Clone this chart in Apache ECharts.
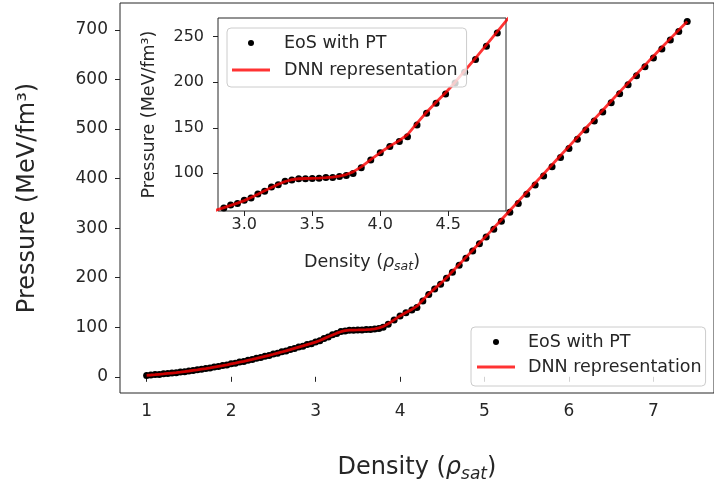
<!DOCTYPE html>
<html>
<head>
<meta charset="utf-8">
<script src="https://cdn.jsdelivr.net/npm/echarts@6/dist/echarts.min.js"></script>
<style>
html,body{margin:0;padding:0;background:#fff;}
#chart{width:714px;height:488px;}
</style>
</head>
<body>
<div id="chart"></div>
<script>
// Density (rho_sat)
const density = [1.00,1.05,1.10,1.15,1.20,1.25,1.30,1.35,1.40,1.45,1.50,1.55,1.60,1.65,1.70,1.75,1.80,1.85,1.90,1.95,
  2.00,2.05,2.10,2.15,2.20,2.25,2.30,2.35,2.40,2.45,2.50,2.55,2.60,2.65,2.70,2.75,2.80,2.85,2.90,2.95,
  3.00,3.05,3.10,3.15,3.20,3.25,3.30,3.35,3.40,3.45,3.50,3.55,3.60,3.65,3.70,3.75,3.80,3.86,3.93,
  4.00,4.07,4.14,4.20,4.27,4.34,4.41,4.48,4.55,4.62,4.70,4.78,4.86,4.94,
  5.02,5.11,5.20,5.30,5.40,5.50,5.60,5.70,5.80,5.90,6.00,6.10,6.20,6.30,6.40,6.50,6.60,6.70,6.80,6.90,
  7.00,7.10,7.20,7.30,7.40];
// EoS with PT (dots), MeV/fm^3
const eosPressure = [2.6,3.4,4.4,4.8,5.9,6.5,7.8,8.3,9.7,10.4,11.9,12.6,14.3,15.1,16.9,17.8,19.8,20.8,22.9,23.9,
  26.2,27.3,29.7,30.9,33.4,34.7,37.3,38.8,41.5,43.0,45.8,47.4,50.4,52.1,55.2,57.0,60.2,61.8,65.1,66.8,
  70.3,73.0,77.3,80.3,84.9,87.4,91.3,92.6,94.1,94.0,94.4,94.5,95.3,95.5,96.6,97.6,99.8,106.2,114.6,
  122.5,129.3,134.8,140.0,153.0,166.0,177.0,187.0,199.0,211.0,225.0,239.5,254.0,268.5,
  282.0,298.0,314.0,332.0,350.0,368.5,387.0,405.5,424.0,442.5,461.0,479.5,498.0,516.5,534.5,553.0,571.0,589.5,607.5,625.5,
  643.5,661.5,679.5,697.0,717.0];
// DNN representation (line), MeV/fm^3
const dnnPressure = [3.0,3.6,4.3,5.1,5.8,6.7,7.6,8.5,9.5,10.6,11.7,12.9,14.1,15.4,16.7,18.1,19.6,21.1,22.6,24.2,
  25.9,27.6,29.4,31.2,33.1,35.0,37.0,39.1,41.2,43.3,45.5,47.8,50.1,52.5,54.9,57.4,59.9,62.3,64.8,67.3,
  70.0,73.4,77.0,80.8,84.5,88.0,91.0,93.0,94.0,94.3,94.5,94.8,95.2,95.8,96.8,98.6,101.5,107.0,115.0,
  122.8,129.8,136.0,142.5,155.0,167.0,178.0,188.5,200.0,212.5,226.5,241.0,255.5,270.0,
  284.0,300.5,317.0,335.5,354.0,372.5,391.0,409.5,428.0,446.5,465.0,483.5,502.0,520.0,538.0,556.5,575.0,593.0,611.0,629.0,
  647.0,665.0,682.5,700.0,717.0];

const mainXTicks = [1,2,3,4,5,6,7];
const mainYTicks = [0,100,200,300,400,500,600,700];
const insetXTicks = [3.0,3.5,4.0,4.5];
const insetYTicks = [100,150,200,250];

const eosPts = density.map((d,i)=>[d, eosPressure[i]]);
const dnnPts = density.map((d,i)=>[d, dnnPressure[i]]);

const FF = 'DejaVu Sans';
const TXT = '#262626';
const RED = 'rgba(255,0,0,0.8)';

function xName(size, lh, subSize, subLh){
  return {
    fontFamily: FF, fontSize: size, color: TXT, lineHeight: lh,
    rich: {
      n: {fontFamily: FF, fontSize: size, color: TXT, lineHeight: lh},
      i: {fontFamily: FF, fontSize: size, color: TXT, lineHeight: lh, fontStyle: 'italic'},
      s: {fontFamily: FF, fontSize: subSize, color: TXT, lineHeight: subLh, fontStyle: 'italic', verticalAlign: 'bottom'}
    }
  };
}
const xNameText = '{n|Density (}{i|ρ}{s|sat}{n|)}';

function valAxis(gridIndex, min, max, ticks, fontSize, margin, fmt, extra){
  return Object.assign({
    type: 'value', gridIndex: gridIndex, min: min, max: max,
    splitLine: {show: false},
    axisLine: {show: false},
    axisTick: {show: true, inside: false, length: 5, customValues: ticks, lineStyle: {color: '#222', width: 1}},
    axisLabel: {show: true, customValues: ticks, margin: margin, fontFamily: FF, fontSize: fontSize, color: TXT, formatter: fmt}
  }, extra);
}

const legendData = [
  {name: 'EoS with PT', icon: 'circle', itemStyle: {color: '#000', borderWidth: 0, opacity: 1}},
  {name: 'DNN representation', icon: 'path://M0,0L40,0L40,3L0,3Z', itemStyle: {color: RED, borderWidth: 0}}
];

const option = {
  animation: false,
  backgroundColor: '#fff',
  grid: [
    {left: 120, top: 3, width: 602, height: 392, show: true, borderColor: '#262626', borderWidth: 1, backgroundColor: '#fff', containLabel: false},
    {left: 218, top: 18, width: 288, height: 193, show: true, borderColor: '#262626', borderWidth: 1, backgroundColor: '#fff', containLabel: false, z: 1}
  ],
  xAxis: [
    valAxis(0, 0.6846, 7.717, mainXTicks, 17, 10, v => String(v), {
      name: xNameText, nameLocation: 'middle', nameGap: 60, nameTextStyle: xName(24, 30, 17, 17)
    }),
    valAxis(1, 2.807, 4.924, insetXTicks, 16, 6, v => v.toFixed(1), {
      name: xNameText, nameLocation: 'middle', nameGap: 40, nameTextStyle: xName(17.5, 22, 12.5, 12.5)
    })
  ],
  yAxis: [
    valAxis(0, -32.7, 754.4, mainYTicks, 17, 12, v => String(v), {
      name: 'Pressure (MeV/fm³)', nameLocation: 'middle', nameGap: 78,
      nameTextStyle: {fontFamily: FF, fontSize: 24, color: TXT, lineHeight: 28}
    }),
    valAxis(1, 58.6, 270.5, insetYTicks, 16, 14, v => String(v), {
      name: 'Pressure (MeV/fm³)', nameLocation: 'middle', nameGap: 58,
      nameTextStyle: {fontFamily: FF, fontSize: 17.5, color: TXT, lineHeight: 22}
    })
  ],
  legend: [
    {
      left: 471, top: 327, orient: 'vertical', selectedMode: false,
      padding: [5, 4, 9, 6], itemGap: 5, itemWidth: 38, itemHeight: 6,
      backgroundColor: 'rgba(255,255,255,0.8)', borderColor: '#cccccc', borderWidth: 1, borderRadius: 4,
      textStyle: {fontFamily: FF, fontSize: 17.5, color: TXT, lineHeight: 20, padding: [0, 0, 0, 8]},
      data: legendData, z: 10
    },
    {
      left: 227, top: 28, orient: 'vertical', selectedMode: false,
      padding: [5, 9, 7, 5], itemGap: 7, itemWidth: 38, itemHeight: 6,
      backgroundColor: 'rgba(255,255,255,0.8)', borderColor: '#cccccc', borderWidth: 1, borderRadius: 4,
      textStyle: {fontFamily: FF, fontSize: 17.5, color: TXT, lineHeight: 20, padding: [0, 0, 0, 9]},
      data: legendData, z: 10
    }
  ],
  series: [
    {name: 'EoS with PT', type: 'scatter', xAxisIndex: 0, yAxisIndex: 0, data: eosPts,
      symbol: 'circle', symbolSize: 7, itemStyle: {color: '#000', opacity: 1}, z: 2, silent: true},
    {name: 'DNN representation', type: 'line', xAxisIndex: 0, yAxisIndex: 0, data: dnnPts,
      symbol: 'none', showSymbol: false, color: RED, lineStyle: {color: RED, width: 2.8}, itemStyle: {color: RED}, z: 3, silent: true},
    {name: 'EoS with PT', type: 'scatter', xAxisIndex: 1, yAxisIndex: 1, data: eosPts,
      symbol: 'circle', symbolSize: 7, itemStyle: {color: '#000', opacity: 1}, z: 4, clip: true, silent: true},
    {name: 'DNN representation', type: 'line', xAxisIndex: 1, yAxisIndex: 1, data: dnnPts,
      symbol: 'none', showSymbol: false, color: RED, lineStyle: {color: RED, width: 2.8}, itemStyle: {color: RED}, z: 5, clip: true, silent: true}
  ]
};

const chart = echarts.init(document.getElementById('chart'), null, {renderer: 'canvas'});
chart.setOption(option);
</script>
</body>
</html>
